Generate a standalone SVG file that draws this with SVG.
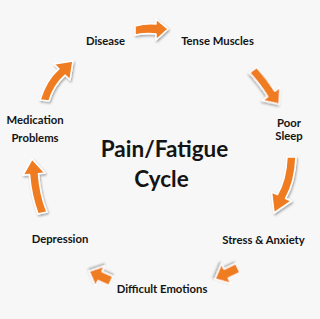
<svg xmlns="http://www.w3.org/2000/svg" width="320" height="319" viewBox="0 0 320 319">
<defs>
<filter id="sh" x="-30%" y="-30%" width="160%" height="160%">
<feDropShadow dx="1" dy="1.5" stdDeviation="1" flood-color="#000" flood-opacity="0.35"/>
</filter>
<style>
.lbl{font-family:Lato,"Liberation Sans",sans-serif;font-weight:700;font-size:11.3px;fill:#141414;text-anchor:middle}
.ttl{font-family:Lato,"Liberation Sans",sans-serif;font-weight:700;font-size:22.5px;fill:#141414;text-anchor:middle}
.arr{fill:#f07b22;stroke:#fff;stroke-width:1.6;stroke-linejoin:round;filter:url(#sh)}
</style>
</defs>
<rect width="320" height="319" fill="#f7f7f7"/>
<g id="connectors">
<path class="arr" d="M135,26 Q146,23 156,24 L156,19 L168,29 L156,40 L156,34 Q146,33 135,35 Z"/>
<path class="arr" transform="translate(253,70) rotate(52.6)" d="M0,-4.5 Q15,-6 30,-4.5 L30,-11 L43,0 L30,11 L30,4.5 Q15,3 0,4.5 Z"/>
<path class="arr" d="M287,157 L296,157 Q295,182 285.6,198.4 L291.5,201 L274,213 L271.5,192 L277.4,194.6 Q286,180 287,157 Z"/>
<path class="arr" transform="translate(238,268) rotate(154.4)" d="M0,-5 L13,-5 L13,-11 L25.5,0 L13,11 L13,5 L0,5 Z"/>
<path class="arr" transform="translate(111,281) rotate(204)" d="M0,-5 L12,-5 L12,-11 L24,0 L12,11 L12,5 L0,5 Z"/>
<path class="arr" d="M38,214 Q31,195 29.5,174.5 L23,175 L32,159 L45,173 L38.5,173.7 Q40,195 47,212 Z"/>
<path class="arr" d="M40,100 Q46,80 58.8,68.8 L54,64 L73,61 L70,80 L65.2,75.2 Q54,85 49,101 Z"/>
</g>
<g id="title"><text class="ttl" x="164.5" y="157">Pain/Fatigue</text><text class="ttl" x="161.5" y="187">Cycle</text></g>
<g id="disease"><text class="lbl" x="105.5" y="45">Disease</text></g>
<g id="tense-muscles"><text class="lbl" x="217.5" y="45">Tense Muscles</text></g>
<g id="poor-sleep"><text class="lbl" x="289" y="127">Poor</text><text class="lbl" x="289" y="140">Sleep</text></g>
<g id="stress-anxiety"><text class="lbl" x="263.5" y="244">Stress &amp; Anxiety</text></g>
<g id="difficult-emotions"><text class="lbl" x="162" y="293">Difficult Emotions</text></g>
<g id="depression"><text class="lbl" x="60" y="243">Depression</text></g>
<g id="medication-problems"><text class="lbl" x="35" y="124">Medication</text><text class="lbl" x="35" y="142">Problems</text></g>
</svg>
